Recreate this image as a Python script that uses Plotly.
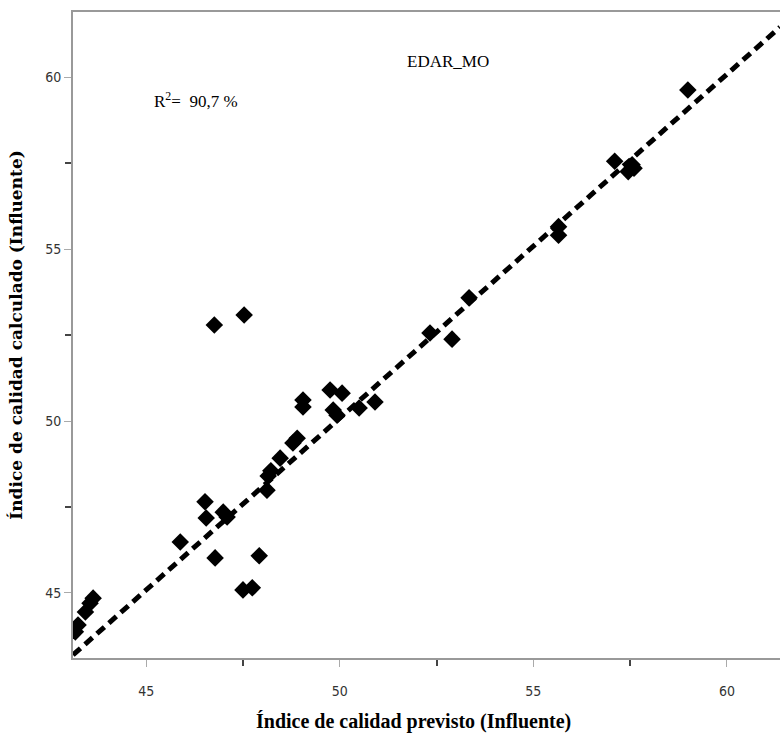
import plotly.graph_objects as go

# Predicted (x) vs calculated (y) quality index
pred = [43.17, 43.24, 43.43, 43.55, 43.63,
        45.88, 46.52, 46.55, 46.99, 47.09, 46.78,
        47.50, 47.74, 47.92, 48.12, 48.15, 48.22,
        46.76, 47.53, 48.46, 48.79, 48.90, 49.05, 49.05,
        49.75, 50.06, 49.83, 49.93, 50.50, 50.91,
        52.33, 52.90, 53.34, 55.65, 55.65,
        57.10, 57.45, 57.55, 57.60, 58.99]
calc = [43.87, 44.07, 44.45, 44.70, 44.85,
        46.48, 47.65, 47.18, 47.35, 47.21, 46.02,
        45.09, 45.15, 46.08, 47.99, 48.40, 48.55,
        52.79, 53.08, 48.92, 49.36, 49.50, 50.61, 50.41,
        50.90, 50.81, 50.32, 50.17, 50.38, 50.55,
        52.56, 52.38, 53.58, 55.65, 55.40,
        57.55, 57.25, 57.45, 57.35, 59.62]

fit_x = [43.11, 61.37]
fit_y = [43.20, 61.45]

x_range = [43.11, 61.37]
y_range = [43.11, 61.89]
tick_vals = [45, 50, 55, 60]
minor_vals = [47.5, 52.5, 57.5]

title_text = "EDAR_MO"
r2_text = "R<sup>2</sup>=  90,7 %"
x_title = "Índice de calidad previsto (Influente)"
y_title = "Índice de calidad calculado (Influente)"

fig = go.Figure()
fig.add_trace(go.Scatter(x=fit_x, y=fit_y, mode="lines",
                         line=dict(color="black", width=5, dash="10px,6px"),
                         showlegend=False, hoverinfo="skip"))
fig.add_trace(go.Scatter(x=pred, y=calc, mode="markers",
                         marker=dict(symbol="diamond", size=13.5, color="black",
                                     line=dict(width=0)),
                         showlegend=False))

tickfont = dict(family="DejaVu Sans Condensed, Liberation Sans Narrow, sans-serif",
                size=14, color="#333333")
axis_common = dict(showgrid=False, zeroline=False, showline=True,
                   linecolor="#999999", linewidth=2,
                   ticks="outside", ticklen=7, tickcolor="#aaaaaa", tickwidth=1,
                   tickvals=tick_vals, tickfont=tickfont,
                   minor=dict(tickmode="array", tickvals=minor_vals,
                              ticks="outside", ticklen=6, tickcolor="#444444",
                              tickwidth=2))

fig.update_xaxes(range=x_range, mirror=True, ticklabelstandoff=12, **axis_common)
fig.update_yaxes(range=y_range, **axis_common,
                 title=dict(text=y_title, standoff=18,
                            font=dict(family="DejaVu Serif, serif", size=17,
                                      color="black", weight="bold")))

fig.add_annotation(text=x_title, xref="paper", yref="paper", x=0.481, y=-0.099,
                   showarrow=False, xanchor="center", yanchor="middle",
                   font=dict(family="Liberation Serif, serif", size=20,
                             color="black", weight="bold"))
fig.add_annotation(text=title_text, xref="paper", yref="paper", x=0.530, y=0.923,
                   showarrow=False, xanchor="center", yanchor="middle",
                   font=dict(family="Liberation Serif, serif", size=17, color="black"))
fig.add_annotation(text=r2_text, xref="paper", yref="paper", x=0.112, y=0.864,
                   showarrow=False, xanchor="left", yanchor="middle",
                   font=dict(family="Liberation Serif, serif", size=17, color="black"))

fig.update_layout(width=780, height=741, plot_bgcolor="white", paper_bgcolor="white",
                  margin=dict(l=73, r=0, t=12, b=83))
fig.write_html("out.html")
